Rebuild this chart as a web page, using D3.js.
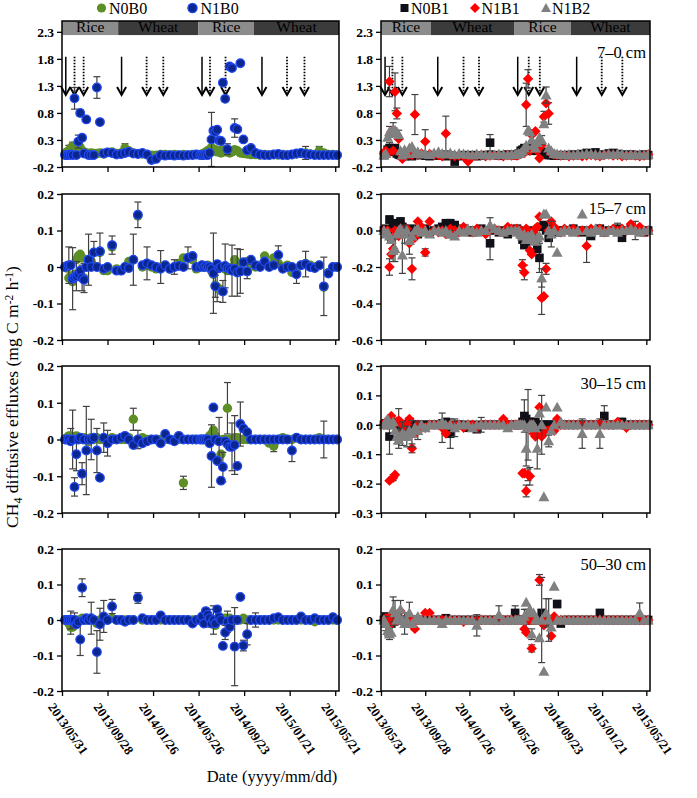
<!DOCTYPE html>
<html><head><meta charset="utf-8">
<script src="https://cdn.jsdelivr.net/npm/d3@7"></script>
<style>body{margin:0;background:#fff}text{font-family:"Liberation Serif","Times New Roman",serif}</style>
</head><body><svg id="c" width="697" height="798"></svg>
<script>
// ---------------- DATA ----------------
const START = new Date(2013, 4, 31);
// sampling days (days after 2013/05/31): rice 1 (21), wheat 1 (18), rice 2 (23), wheat 2 (19)
const sampleDays = [
  8,13,18,23,28,33,38,43,48,53,58,64,70,77,84,92,100,110,120,132,144,
  156,166,176,188,200,212,224,236,248,260,272,284,296,308,320,332,344,354,
  364,369,374,379,384,389,394,399,404,409,414,419,424,430,436,442,448,455,462,470,478,488,498,
  510,522,534,546,558,570,582,594,606,618,630,642,654,666,678,690,702,714,725];
const xTickDays = [0,120,240,360,480,600,720];
const xTickLabels = ["2013/05/31","2013/09/28","2014/01/26","2014/05/26","2014/09/23","2015/01/21","2015/05/21"];
const cropNames = ["Rice","Wheat","Rice","Wheat"];
const seasonBoundsLeft = [0,148,359,506,730];
const seasonBoundsRight = [0,135,361,515,730];
const basalLeft = [10,157,369,527];
const topdressLeft = [33,57,223,267,390,431,593,639];
const basalRight = [11,154,371,531];
const topdressRight = [31,58,224,266,401,431,599,655];
const depthLabels = ["7\u20130 cm","15\u20137 cm","30\u201315 cm","50\u201330 cm"];
const leftSeries = ["N0B0","N1B0"];
const rightSeries = ["N0B1","N1B1","N1B2"];
const yTicksLeft = [[-0.2,0.3,0.8,1.3,1.8,2.3],[-0.2,-0.1,0,0.1,0.2],[-0.2,-0.1,0,0.1,0.2],[-0.2,-0.1,0,0.1,0.2]];
const yTicksRight = [[-0.2,0.3,0.8,1.3,1.8,2.3],[-0.6,-0.4,-0.2,0,0.2],[-0.3,-0.2,-0.1,0,0.1,0.2],[-0.2,-0.1,0,0.1,0.2]];
const yDomLeft = [[-0.2,2.5],[-0.2,0.2],[-0.2,0.2],[-0.2,0.2]];
const yDomRight = [[-0.2,2.5],[-0.6,0.2],[-0.3,0.2],[-0.2,0.2]];

// ---- 7–0 cm
const N0B0_d1 = [0.05,0.08,0.1,0.15,0.18,0.14,0.2,0.12,0.16,0.1,0.08,0.06,0.05,0.06,0.05,0.05,0.06,0.04,0.07,0.08,0.05,
  0.06,0.15,0.1,0.06,0.05,0.04,0.03,0.02,0.02,0.03,0.03,0.02,0.03,0.02,0.03,0.02,0.03,0.03,
  0.03,0.04,0.05,0.08,0.1,0.12,0.16,0.1,0.12,0.08,0.1,0.06,0.12,0.08,0.1,0.06,0.08,0.12,0.1,0.06,0.05,0.04,0.03,
  0.03,0.02,0.03,0.02,0.03,0.02,0.03,0.02,0.03,0.04,0.05,0.06,0.04,0.03,0.1,0.06,0.03,0.03,0.02];
const N1B0_d1 = [0.02,0.02,0.02,0.03,0.02,1.07,0.02,0.27,0.80,0.34,0.05,0.68,0.02,0.02,0.02,1.27,0.63,0.05,0.07,0.06,0.03,
  0.04,0.06,0.08,0.05,0.04,0.06,0.03,-0.07,-0.05,0.02,0.01,0.02,0.01,0.02,0.01,0.02,0.02,0.03,
  0.02,0.02,0.02,0.03,0.02,0.06,0.31,0.47,0.45,0.49,0.29,0.28,1.36,1.06,0.13,1.66,1.63,0.52,0.5,1.72,0.31,0.11,0.15,
  0.06,0.03,0.02,0.02,0.03,0.04,0.02,0.02,0.03,0.05,0.06,0.04,0.03,0.02,0.02,0.02,0.02,0.02,0.02];
const N0B1_d1 = [0.02,0.05,0.12,0.15,0.1,0.08,0.15,0.05,0.03,0.02,0.01,0.0,0.02,0.01,0.0,0.02,0.03,0.02,0.01,0.0,0.02,
  0.01,0.02,0.0,0.01,-0.1,0.0,0.02,0.01,0.02,0.0,0.01,0.02,0.25,0.02,0.01,0.02,0.03,0.02,
  0.02,0.03,0.05,0.1,0.12,0.15,0.1,0.12,0.15,0.1,0.14,0.12,0.1,0.15,0.08,0.05,0.03,0.02,0.02,0.01,0.02,0.01,0.02,
  0.02,0.03,0.02,0.04,0.06,0.05,0.07,0.02,0.03,0.05,0.06,0.04,0.03,0.02,0.03,0.02,0.02,0.03,0.02];
const N1B1_d1 = [0.05,0.1,0.05,1.38,0.45,0.1,1.19,0.79,0.32,0.05,-0.05,0.02,0.05,0.03,0.02,0.77,0.03,0.05,0.27,0.04,0.02,
  0.02,0.0,0.42,0.02,0.0,0.01,0.0,-0.1,0.0,0.01,0.02,0.0,0.01,0.02,0.01,0.0,0.02,0.01,
  0.02,0.01,0.03,0.05,0.08,0.06,0.95,1.43,0.1,0.39,0.15,0.46,0.1,-0.04,0.2,0.73,0.98,0.79,0.05,0.03,0.02,0.01,0.02,
  0.0,0.01,0.02,0.0,0.01,0.02,0.01,0.0,0.02,0.03,0.01,0.02,0.0,0.01,0.02,0.01,0.0,0.01,0.03];
const N1B2_d1 = [0.02,0.05,0.35,0.45,0.42,0.5,0.48,0.45,0.4,0.1,0.02,0.12,0.05,0.15,0.18,0.05,0.08,0.04,0.05,0.03,0.06,
  0.08,0.05,0.04,0.06,0.03,0.05,0.04,0.03,0.02,0.04,0.03,0.02,0.03,0.02,0.04,0.03,0.02,0.03,
  0.03,0.04,0.05,0.06,0.1,0.15,0.2,0.48,0.45,0.3,0.2,0.15,0.25,0.35,0.3,0.6,1.13,0.15,0.1,0.05,0.04,0.03,0.02,
  0.03,0.02,0.04,0.03,0.05,0.04,0.03,0.02,0.03,0.04,0.03,0.05,0.04,0.02,0.03,0.02,0.03,0.02,0.03];
// ---- 15–7 cm
const N0B0_d2 = [0,-0.003,-0.03,-0.025,-0.04,-0.02,0.02,0.03,0.035,0.025,-0.03,0.0,0.01,0.015,0.04,0.0,0.04,-0.01,-0.01,0.055,-0.005,
  -0.01,0.0,0.015,0.02,0.14,0.0,0.005,0.0,-0.005,0.0,0.005,-0.005,0.0,0.01,0.025,0.025,0.02,-0.005,
  0.0,0.005,0.0,0.0,0.005,0.0,-0.01,-0.02,-0.05,-0.055,-0.06,-0.065,0.0,-0.005,-0.01,-0.005,0.0,0.02,0.01,0.01,-0.01,0.015,0.01,
  0.0,0.005,0.03,0.005,0.025,0.01,0.0,0.005,-0.015,-0.015,0.005,0.01,0.005,0.0,0.005,-0.055,-0.015,0.0,0.0];
const N1B0_d2 = [0,0.003,0.005,0.005,-0.032,-0.028,-0.025,-0.02,-0.01,-0.03,-0.035,0.0,0.02,0.0,0.04,0.0,0.043,-0.005,0.0,0.06,-0.01,
  -0.01,0.0,-0.003,0.02,0.143,0.005,0.01,0.005,0.0,-0.005,0.005,-0.005,0.0,0.003,0.0,0.025,0.03,0.0,
  0,0.005,0,0.003,0,0,-0.005,-0.017,-0.053,0.008,-0.003,0.0,-0.067,0.003,-0.003,-0.005,-0.01,-0.005,-0.015,-0.012,0.013,-0.012,0.02,
  0.005,0,0.015,0,0.005,0.033,-0.005,0,0.0,-0.02,0.005,0.008,0,-0.003,0.005,-0.053,-0.018,0,0];
const N0B1_d2 = [0.0,0.01,0.0,0.06,-0.05,0.02,0.01,0.04,0.03,0.05,0.02,0.0,-0.01,0.0,0.01,0.0,-0.02,0.0,0.01,-0.01,0.0,
  0.01,0.02,0.04,0.04,0.03,0.0,0.01,0.0,-0.01,0.0,0.01,0.0,-0.07,0.0,-0.01,0.0,-0.02,0.0,
  0.0,0.01,0.0,-0.02,-0.05,-0.08,-0.06,-0.03,-0.04,-0.02,0.0,-0.05,-0.1,-0.15,0.02,0.03,0.0,-0.04,0.01,0.0,-0.01,0.0,0.0,
  0.0,0.01,0.0,-0.01,0.0,-0.03,0.0,0.01,-0.01,0.0,0.0,0.01,-0.04,0.0,0.01,0.0,0.0,-0.01,0.0];
const N1B1_d2 = [0.0,-0.01,0.0,-0.2,-0.13,-0.1,0.0,-0.02,-0.03,0.01,0.0,-0.02,0.01,-0.07,-0.21,-0.04,0.05,0.02,-0.12,0.05,0.0,
  -0.01,0.0,-0.02,0.01,0.0,-0.01,0.02,0.0,-0.01,0.01,0.0,-0.02,0.0,0.01,0.0,-0.01,0.02,0.01,
  0.0,0.01,-0.01,0.0,-0.19,-0.23,0.01,0.0,-0.11,-0.13,-0.02,0.01,0.02,0.075,-0.37,-0.36,-0.21,0.0,0.05,0.02,0.0,-0.01,0.01,
  0.0,0.01,-0.01,0.0,-0.085,0.01,0.0,0.01,-0.01,0.0,0.01,0.0,0.01,0.0,0.035,0.01,0.02,-0.01,0.0];
const N1B2_d2 = [0.0,-0.02,-0.01,-0.03,-0.05,-0.11,-0.1,-0.02,0.0,0.01,-0.135,-0.02,0.0,-0.055,-0.03,0.0,0.01,-0.01,0.0,-0.02,0.0,
  0.0,-0.01,0.0,-0.02,-0.03,0.0,-0.01,0.01,0.0,-0.01,0.0,0.0,0.03,0.01,0.0,-0.01,0.0,0.0,
  0.0,-0.01,0.0,-0.02,-0.03,-0.02,-0.05,-0.03,-0.04,-0.02,-0.05,-0.06,-0.04,-0.03,-0.26,0.09,0.09,0.0,-0.02,0.0,-0.12,-0.01,0.0,
  0.0,-0.01,0.0,0.09,0.0,-0.01,0.01,0.0,-0.01,0.0,0.0,-0.01,0.0,0.0,0.01,0.0,-0.01,0.0,0.0];
// ---- 30–15 cm
const N0B0_d3 = [0.0,0.005,0.01,0.01,0.005,0.0,0.01,0.0,0.005,0.0,0.005,0.0,-0.005,0.005,0.0,0.005,0.0,0.0,0.0,0.005,0.0,
  0.0,0.0,0.005,0.055,0.0,0.005,0.0,0.0,0.0,0.0,0.0,0.0,0.0,0.0,-0.118,0.0,0.0,0.0,
  0.0,0.0,0.0,0.0,0.0,0.01,0.015,0.025,0.01,0.0,-0.005,-0.04,0.0,0.0,0.085,0.0,0.0,0.005,0.005,0.0,0.0,0.0,0.0,
  0.0,0.0,0.0,-0.01,-0.018,0.0,0.005,0.0,0.0,0.005,0.0,0.0,0.0,0.0,0.005,0.0,0.0,0.0,0.0];
const N1B0_d3 = [0,0,0,-0.005,0,-0.129,-0.04,0,0.005,-0.093,0,-0.03,0,0,0.005,-0.03,-0.104,0.005,-0.01,0,0,
  0.005,0.01,0,-0.015,0,-0.01,-0.005,0,0,-0.01,0.015,0,-0.005,0.01,0,0,0,0,
  0,0,0,0,0,-0.01,-0.045,0.087,0,-0.058,-0.005,-0.112,-0.075,-0.005,-0.012,-0.02,-0.02,-0.015,-0.072,0.042,0.03,0.02,0,
  0,0,0,0,0,0,0,0,-0.03,0.005,0,0,0,0,0,0,0,0,0];
const N0B1_d3 = [0.0,0.005,0.0,-0.04,0.01,0.0,0.005,0.0,0.0,0.0,0.0,-0.01,0.0,0.01,0.0,0.0,0.0,0.0,0.0,0.0,0.0,
  0.0,0.005,0.01,-0.03,0.0,0.0,0.0,-0.01,0.0,-0.015,0.0,0.0,0.0,0.0,0.0,0.0,0.0,0.0,
  0.0,0.0,0.0,0.0,0.01,0.03,0.02,0.0,0.01,0.0,0.0,0.01,0.0,-0.01,0.0,0.0,0.0,0.0,0.0,0.0,0.0,0.0,0.0,
  0.0,0.0,0.0,0.0,0.0,0.0,0.0,0.0,0.03,0.0,0.0,0.0,0.01,0.0,0.0,0.0,0.0,0.0,0.0];
const N1B1_d3 = [0.0,0.01,0.0,-0.19,0.03,-0.18,-0.17,0.01,0.015,0.01,0.0,-0.02,0.0,0.02,-0.08,-0.03,0.0,-0.01,-0.01,0.0,0.0,
  0.0,-0.01,-0.03,0.0,0.0,0.0,-0.01,0.0,0.0,-0.01,0.0,0.0,0.0,0.0,0.0,0.02,0.0,0.0,
  0.0,0.0,0.0,0.0,-0.165,-0.165,-0.225,-0.17,-0.175,0.0,-0.03,-0.04,-0.035,0.06,-0.04,-0.03,-0.02,-0.02,-0.015,-0.02,0.02,0.0,0.0,
  0.0,0.0,0.0,0.0,0.0,0.0,0.0,0.005,0.0,0.0,0.0,0.01,0.0,-0.01,0.0,0.0,0.0,0.0,0.0];
const N1B2_d3 = [0.0,0.01,0.02,0.0,0.0,0.01,-0.02,-0.04,-0.05,-0.04,-0.03,-0.035,-0.04,-0.02,-0.03,-0.01,-0.02,0.0,-0.01,0.0,0.0,
  0.0,0.01,0.0,0.0,-0.01,0.0,0.0,0.0,-0.01,0.0,0.0,0.0,0.0,0.0,0.0,0.0,-0.01,0.0,
  0.0,0.0,0.0,0.0,0.0,0.0,-0.08,-0.01,0.0,0.0,0.0,-0.01,-0.08,0.04,0.0,-0.245,0.06,-0.055,-0.02,0.0,0.06,0.01,0.0,
  0.0,0.0,0.0,-0.03,0.0,0.0,0.0,-0.03,0.0,0.0,0.0,0.0,0.0,0.0,0.0,0.0,0.0,0.0,0.0];
// ---- 50–30 cm
const N0B0_d4 = [0.0,0.0,-0.01,-0.02,-0.02,-0.015,-0.01,0.0,0.0,0.005,0.0,0.0,0.0,0.0,0.0,-0.01,0.0,0.0,0.0,0.005,0.0,
  0.0,0.0,0.0,0.0,0.062,0.0,0.0,0.0,0.0,0.0,0.0,0.0,0.0,0.0,0.0,0.0,0.0,0.0,
  0.0,0.0,0.0,0.0,0.0,0.0,0.0,-0.005,-0.015,0.0,0.01,0.005,0.0,0.005,0.0,0.005,0.0,0.0,0.0,0.0,0.005,0.0,0.0,
  0.0,0.0,0.0,0.0,0.0,0.0,0.0,0.0,0.0,0.0,0.0,0.0,0.0,-0.005,0.0,0.0,0.0,0.0,0.0];
const N1B0_d4 = [0,0,0,0,0,0,-0.012,-0.005,-0.055,0.091,0,0.005,0,0.005,0,-0.09,-0.012,0.01,0,0.038,0,
  0,-0.005,0,0,0.063,0.005,0,0,0,0.013,0,0,0,0,0,0,-0.01,0,
  0,0.01,-0.01,0.025,0.015,0.005,-0.01,0,-0.01,0.03,0.008,0,-0.073,-0.035,-0.005,-0.02,0,-0.075,0,0.065,-0.072,-0.04,0,
  0,0,0,0,0.005,0.008,0,0,0,0,0.01,0,0,0.005,0,0,0,0.008,0];
const N0B1_d4 = [0.0,0.01,0.0,0.0,-0.01,0.0,0.0,0.01,0.0,0.0,0.0,0.0,0.0,0.0,0.0,0.0,0.0,0.0,0.0,0.0,0.0,
  0.0,0.0,0.005,0.0,0.0,0.0,0.0,0.0,0.0,0.0,0.0,0.0,0.0,0.0,0.0,0.0,0.0,0.0,
  0.02,0.0,0.0,0.0,0.0,0.0,0.0,0.0,0.0,0.0,0.0,0.0,0.0,0.0,0.02,0.0,0.0,0.0,0.0,0.0,0.045,-0.01,0.0,
  0.0,0.0,0.0,0.0,0.0,0.0,0.0,0.02,0.0,0.0,0.0,0.0,0.0,0.0,0.0,0.0,0.0,0.0,0.0];
const N1B1_d4 = [0.0,0.005,0.0,0.01,-0.01,0.0,0.005,0.0,0.0,0.025,0.0,0.0,0.005,0.0,0.0,-0.025,0.0,0.0,0.02,0.02,0.0,
  0.0,0.0,0.0,0.0,0.0,0.0,-0.005,0.0,0.0,0.0,0.0,0.0,0.0,0.0,0.0,0.0,0.0,0.0,
  0.0,0.0,0.0,0.0,0.0,-0.025,-0.035,0.0,0.0,-0.08,0.0,0.0,0.0,0.113,-0.005,-0.015,0.0,0.0,-0.045,0.01,0.0,0.0,0.0,
  0.0,0.0,0.0,0.0,0.0,0.0,0.0,0.0,0.0,0.0,0.0,0.0,0.0,0.0,0.0,0.0,0.0,0.0,0.0];
const N1B2_d4 = [0.0,-0.01,-0.03,-0.04,-0.035,0.03,0.02,0.0,0.01,0.03,0.0,-0.01,0.0,0.02,-0.01,0.0,0.01,0.0,0.0,0.0,0.0,
  0.0,-0.01,0.0,0.0,0.0,0.0,0.0,0.0,0.0,-0.015,0.0,0.0,0.0,0.0,0.015,0.0,0.0,0.0,
  0.0,0.0,0.0,0.0,0.0,0.01,0.05,0.02,0.03,-0.04,0.02,0.0,0.0,-0.05,0.0,-0.145,0.02,0.0,-0.02,0.095,0.0,0.0,0.0,
  0.0,0.0,0.0,0.0,0.0,0.0,0.0,0.0,0.0,0.0,0.0,0.0,0.0,0.0,0.0,0.0,0.02,0.0,0.0];

// standard errors: [sample index, error]
const ERR_N0B0_d1 = [[2,0.1],[4,0.08],[22,0.08],[73,0.12],[76,0.08]];
const ERR_N1B0_d1 = [[5,0.2],[7,0.12],[8,0.06],[9,0.05],[15,0.2],[45,0.5],[53,0.1],[56,0.17]];
const ERR_N0B1_d1 = [[3,0.1],[33,0.15]];
const ERR_N1B1_d1 = [[3,0.28],[6,0.35],[7,0.1],[15,0.37],[18,0.22],[23,0.32],[45,0.4],[46,0.17],[48,0.1],[54,0.1],[56,0.2]];
const ERR_N1B2_d1 = [[3,0.1],[5,0.12],[8,0.08],[53,0.08],[55,0.15]];
const ERR_N0B0_d2 = [[10,0.04],[30,0.045],[36,0.03],[48,0.04]];
const ERR_N1B0_d2 = [[2,0.05],[4,0.085],[6,0.04],[9,0.035],[12,0.07],[14,0.03],[16,0.05],[19,0.025],[24,0.07],[25,0.035],[27,0.045],[33,0.02],[46,0.11],[47,0.03],[51,0.03],[52,0.06],[55,0.07],[57,0.065],[58,0.06],[60,0.02],[67,0.025],[71,0.025],[73,0.035],[77,0.08]];
const ERR_N0B1_d2 = [[3,0.02],[33,0.09],[52,0.08],[73,0.03],[77,0.05]];
const ERR_N1B1_d2 = [[3,0.045],[13,0.06],[14,0.06],[18,0.02],[43,0.03],[44,0.04],[53,0.09],[55,0.03],[66,0.09]];
const ERR_N1B2_d2 = [[5,0.06],[6,0.07],[10,0.1],[11,0.05],[24,0.02],[33,0.04],[53,0.05],[57,0.07]];
const ERR_N0B0_d3 = [[3,0.02],[24,0.03],[35,0.018],[53,0.07],[66,0.015]];
const ERR_N1B0_d3 = [[4,0.08],[5,0.025],[6,0.045],[9,0.03],[11,0.12],[13,0.055],[15,0.06],[17,0.04],[18,0.035],[25,0.025],[45,0.085],[49,0.065],[51,0.04],[55,0.065],[56,0.08],[58,0.06],[70,0.03],[77,0.05]];
const ERR_N0B1_d3 = [[3,0.06],[24,0.05],[44,0.055],[46,0.12],[70,0.035]];
const ERR_N1B1_d3 = [[5,0.01],[8,0.04],[14,0.015],[22,0.05],[45,0.02],[46,0.02],[47,0.03]];
const ERR_N1B2_d3 = [[7,0.025],[8,0.03],[10,0.04],[12,0.035],[14,0.045],[16,0.03],[25,0.03],[31,0.025],[45,0.06],[51,0.07],[53,0.1],[56,0.02],[65,0.05],[69,0.05]];
const ERR_N0B0_d4 = [[3,0.02],[25,0.015]];
const ERR_N1B0_d4 = [[3,0.025],[5,0.02],[8,0.045],[9,0.025],[13,0.045],[15,0.06],[16,0.045],[17,0.045],[19,0.02],[44,0.025],[46,0.04],[52,0.02],[53,0.03],[56,0.11],[59,0.015],[60,0.03],[62,0.02]];
const ERR_N0B1_d4 = [[39,0.02],[45,0.03],[59,0.01]];
const ERR_N1B1_d4 = [[46,0.01],[48,0.01],[52,0.015]];
const ERR_N1B2_d4 = [[1,0.02],[2,0.015],[3,0.015],[5,0.035],[6,0.035],[9,0.025],[11,0.03],[13,0.03],[30,0.03],[35,0.025],[44,0.02],[48,0.015],[53,0.12],[55,0.04],[56,0.06],[78,0.028]];

// ---------------- DRAW ----------------
const svg = d3.select("#c");
const day = d => d3.timeDay.offset(START, d);
const FONT = '"Liberation Serif","Times New Roman",serif';
const style = {
  N0B0:{shape:"circle", fill:"#5d8f26", stroke:"none", r:4.7},
  N1B0:{shape:"circle", fill:"#0c2690", stroke:"#2148f0", r:4.3},
  N0B1:{shape:"square", fill:"#101018", stroke:"none", r:4.3},
  N1B1:{shape:"diamond", fill:"#ff0000", stroke:"none", r:5.2},
  N1B2:{shape:"triangle", fill:"#808080", stroke:"none", r:5.5}
};
function shapePath(s, r){
  if(s==="square") return `M${-r},${-r}h${2*r}v${2*r}h${-2*r}Z`;
  if(s==="diamond") return `M0,${-r}L${r},0L0,${r}L${-r},0Z`;
  if(s==="triangle") return `M0,${-r}L${r},${r*0.8}L${-r},${r*0.8}Z`;
  return null;
}
const dataSets = {
  N0B0:[N0B0_d1,N0B0_d2,N0B0_d3,N0B0_d4], N1B0:[N1B0_d1,N1B0_d2,N1B0_d3,N1B0_d4],
  N0B1:[N0B1_d1,N0B1_d2,N0B1_d3,N0B1_d4], N1B1:[N1B1_d1,N1B1_d2,N1B1_d3,N1B1_d4], N1B2:[N1B2_d1,N1B2_d2,N1B2_d3,N1B2_d4]};
const errSets = {
  N0B0:[ERR_N0B0_d1,ERR_N0B0_d2,ERR_N0B0_d3,ERR_N0B0_d4], N1B0:[ERR_N1B0_d1,ERR_N1B0_d2,ERR_N1B0_d3,ERR_N1B0_d4],
  N0B1:[ERR_N0B1_d1,ERR_N0B1_d2,ERR_N0B1_d3,ERR_N0B1_d4], N1B1:[ERR_N1B1_d1,ERR_N1B1_d2,ERR_N1B1_d3,ERR_N1B1_d4], N1B2:[ERR_N1B2_d1,ERR_N1B2_d2,ERR_N1B2_d3,ERR_N1B2_d4]};

const rows = [[21,167],[194,340],[366,513],[549,691]];
const cols = {left:[62,339], right:[381,650]};

function fmtFor(side, row){
  const f = d => d3.format(".1f")(d).replace("\u2212","-");
  if(row===0) return f;
  if(side==="left" || row===3) return d => (d===0 ? "0" : f(d));
  return f;
}

function panel(side, row){
  const [x0,x1] = cols[side];
  const [yt,yb] = rows[row];
  const x = d3.scaleTime().domain([day(0), day(730)]).range([x0,x1]);
  const y = d3.scaleLinear().domain(side==="left"?yDomLeft[row]:yDomRight[row]).range([yb,yt]);
  const g = svg.append("g");

  if(row===0){
    const b = side==="left"?seasonBoundsLeft:seasonBoundsRight;
    cropNames.forEach((c,i)=>{
      const xa = x(day(b[i])), xb = x(day(b[i+1]));
      g.append("rect").attr("x",xa).attr("y",y(2.5)).attr("width",xb-xa).attr("height",y(2.24)-y(2.5))
        .attr("fill", c==="Rice"?"#8c8c8c":"#3b3b3b");
      g.append("text").attr("x",(xa+xb)/2).attr("y",y(2.24)-3).attr("text-anchor","middle")
        .attr("font-size",15.5).attr("fill","#000").text(c);
    });
    const drawArrow = (d, dotted) => {
      const ax = x(day(d)), ya = y(1.84), yt2 = y(1.13);
      g.append("line").attr("x1",ax).attr("x2",ax).attr("y1",ya).attr("y2",yt2-1)
        .attr("stroke","#000").attr("stroke-width",dotted?1.8:1.5).attr("stroke-dasharray",dotted?"1.6,1.4":null);
      g.append("path").attr("d",`M${ax-4.5},${yt2-8}L${ax},${yt2}L${ax+4.5},${yt2-8}`)
        .attr("fill","none").attr("stroke","#000").attr("stroke-width",2);
    };
    (side==="left"?basalLeft:basalRight).forEach(d=>drawArrow(d,false));
    (side==="left"?topdressLeft:topdressRight).forEach(d=>drawArrow(d,true));
  }

  const series = side==="left"?leftSeries:rightSeries;
  series.forEach(name=>{
    const vals = dataSets[name][row];
    const errs = errSets[name][row];
    const st = style[name];
    const eg = g.append("g").attr("stroke","#404040").attr("stroke-width",1.2);
    errs.forEach(([i,e])=>{
      const cx = x(day(sampleDays[i])), v = vals[i];
      const ya = y(v+e), yb2 = y(v-e);
      eg.append("line").attr("x1",cx).attr("x2",cx).attr("y1",ya).attr("y2",yb2);
      eg.append("line").attr("x1",cx-3.5).attr("x2",cx+3.5).attr("y1",ya).attr("y2",ya);
      eg.append("line").attr("x1",cx-3.5).attr("x2",cx+3.5).attr("y1",yb2).attr("y2",yb2);
    });
    const mg = g.append("g");
    vals.forEach((v,i)=>{
      const cx = x(day(sampleDays[i])), cy = y(v);
      if(st.shape==="circle"){
        mg.append("circle").attr("cx",cx).attr("cy",cy).attr("r",st.r).attr("fill",st.fill)
          .attr("stroke",st.stroke).attr("stroke-width",1.3);
      } else {
        mg.append("path").attr("d",shapePath(st.shape,st.r)).attr("transform",`translate(${cx},${cy})`).attr("fill",st.fill);
      }
    });
  });

  g.append("rect").attr("x",x0).attr("y",yt).attr("width",x1-x0).attr("height",yb-yt)
    .attr("fill","none").attr("stroke","#000").attr("stroke-width",1.5);

  const yAx = d3.axisLeft(y).tickValues(side==="left"?yTicksLeft[row]:yTicksRight[row])
    .tickSize(5).tickSizeOuter(0).tickPadding(3).tickFormat(fmtFor(side,row));
  const ya = g.append("g").attr("transform",`translate(${x0},0)`).call(yAx);
  ya.select(".domain").remove();
  ya.selectAll("text").attr("font-size",13.5).attr("font-weight","bold").attr("font-family",FONT).attr("fill","#000");
  ya.selectAll("line").attr("stroke","#000").attr("stroke-width",1.3);

  const xAx = d3.axisBottom(x).tickValues(xTickDays.map(day)).tickSize(5).tickSizeOuter(0)
    .tickFormat((d,i)=> row===3 ? xTickLabels[i] : "");
  const xa = g.append("g").attr("transform",`translate(0,${yb})`).call(xAx);
  xa.select(".domain").remove();
  xa.selectAll("line").attr("stroke","#000").attr("stroke-width",1.3);
  xa.selectAll("text").attr("font-size",13).attr("font-weight","bold").attr("font-family",FONT).attr("fill","#000")
    .attr("text-anchor","start").attr("x",0).attr("y",0).attr("dy",0)
    .attr("transform","translate(-15,16) rotate(55)");

  if(side==="right"){
    g.append("text").attr("x",x1-4).attr("y",[58,214,389,570][row]).attr("text-anchor","end")
      .attr("font-size",16.5).text(depthLabels[row]);
  }
}
["left","right"].forEach(s=>[0,1,2,3].forEach(r=>panel(s,r)));

function legendItem(name, cx, tx){
  const st = style[name];
  if(st.shape==="circle"){
    svg.append("circle").attr("cx",cx).attr("cy",8).attr("r",4.6).attr("fill",st.fill).attr("stroke",st.stroke).attr("stroke-width",1.3);
  } else {
    svg.append("path").attr("d",shapePath(st.shape, st.shape==="square"?4:5)).attr("transform",`translate(${cx},8)`).attr("fill",st.fill);
  }
  svg.append("text").attr("x",tx).attr("y",13.5).attr("font-size",16).text(name);
}
legendItem("N0B0",101.5,109);
legendItem("N1B0",192.5,200.5);
legendItem("N0B1",404.5,411);
legendItem("N1B1",475,481.5);
legendItem("N1B2",546,552);

const yt = svg.append("text").attr("transform","translate(18,397) rotate(-90)").attr("text-anchor","middle").attr("font-size",17.5);
yt.append("tspan").text("CH");
yt.append("tspan").attr("font-size",12).attr("dy",4).text("4");
yt.append("tspan").attr("dy",-4).text(" diffusive effluxes (mg C m");
yt.append("tspan").attr("font-size",11.5).attr("dy",-5).text("-2");
yt.append("tspan").attr("dy",5).text(" h");
yt.append("tspan").attr("font-size",11.5).attr("dy",-5).text("-1");
yt.append("tspan").attr("dy",5).text(")");
svg.append("text").attr("x",272).attr("y",782).attr("text-anchor","middle").attr("font-size",16.5).text("Date (yyyy/mm/dd)");
</script></body></html>
